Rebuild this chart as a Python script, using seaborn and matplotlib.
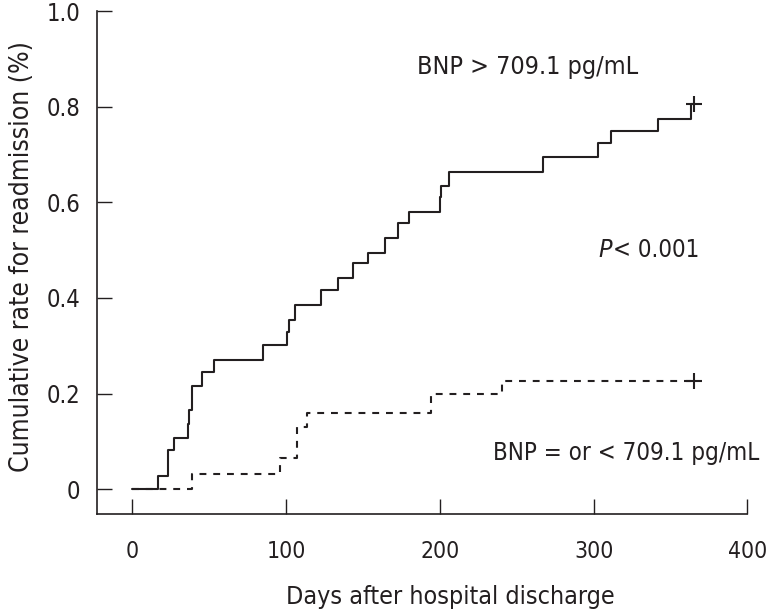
import numpy as np
import pandas as pd
import matplotlib
matplotlib.use("Agg")
import matplotlib.pyplot as plt
import seaborn as sns

# Kaplan-Meier style cumulative readmission
days_high = [0, 17, 23, 27, 36, 37, 39, 45, 53, 85, 100.5, 102, 106, 123, 133.5, 143.5,
             153.5, 164, 173, 180, 200, 201, 206, 267, 302.5, 311.5, 341.5, 363, 365]
rate_high = [0, 0.027, 0.081, 0.108, 0.137, 0.165, 0.216, 0.245, 0.270, 0.302, 0.329, 0.354,
             0.386, 0.417, 0.441, 0.472, 0.494, 0.526, 0.556, 0.580, 0.611, 0.635, 0.664,
             0.694, 0.724, 0.750, 0.775, 0.805, 0.805]

days_low = [0, 38.5, 96.3, 106.9, 113.4, 194, 240.5, 365]
rate_low = [0, 0.031, 0.065, 0.129, 0.160, 0.199, 0.227, 0.227]

xticks = [0, 100, 200, 300, 400]
yticks = [0, 0.2, 0.4, 0.6, 0.8, 1.0]
ytick_labels = ["0", "0.2", "0.4", "0.6", "0.8", "1.0"]

df_high = pd.DataFrame({"days": days_high, "rate": rate_high})
df_low = pd.DataFrame({"days": days_low, "rate": rate_low})

sns.set_theme(style="ticks")
plt.rcParams["font.family"] = ["DejaVu Sans"]
plt.rcParams["font.stretch"] = "condensed"
ink = "#231f20"

fig = plt.figure(figsize=(7.66, 6.16), dpi=100)
ax = fig.add_axes([0.1266, 0.1656, 0.8492, 0.8164])

sns.lineplot(data=df_low, x="days", y="rate", ax=ax, color=ink, lw=1.5,
             drawstyle="steps-post", dashes=False, linestyle=(0, (3.3, 3.3)), estimator=None)
sns.lineplot(data=df_high, x="days", y="rate", ax=ax, color=ink, lw=1.5,
             drawstyle="steps-post", estimator=None)

# censor marks at end of follow-up
ax.plot([days_high[-1]], [rate_high[-1]], marker="+", ms=11, mew=1.5, color=ink, ls="none")
ax.plot([days_low[-1]], [rate_low[-1]], marker="+", ms=11, mew=1.5, color=ink, ls="none")

ax.set_xlim(-23, 400)
ax.set_ylim(-0.052, 1.0)
ax.set_xticks(xticks)
ax.set_yticks(yticks)
ax.set_yticklabels(ytick_labels)
ax.tick_params(axis="both", direction="in", length=10.5, width=1, color=ink, labelcolor=ink)
ax.tick_params(axis="y", pad=12, labelsize=17)
ax.tick_params(axis="x", pad=19, labelsize=16.5)
sns.despine(ax=ax)
for s in ["left", "bottom"]:
    ax.spines[s].set_linewidth(1.2)
    ax.spines[s].set_color(ink)

ax.set_xlabel("Days after hospital discharge", fontsize=18, color=ink)
ax.set_ylabel("Cumulative rate for readmission (%)", fontsize=19, color=ink)
ax.xaxis.set_label_coords(0.543, -0.141)
ax.yaxis.set_label_coords(-0.096, 0.511)

ax.text(257, 0.883, "BNP > 709.1 pg/mL", fontsize=18, color=ink, ha="center", va="center")
ax.text(303, 0.5, "P", fontsize=18, color=ink, style="italic", ha="left", va="center")
ax.text(312.5, 0.5, "< 0.001", fontsize=17.3, color=ink, ha="left", va="center")
ax.text(234.7, 0.075, "BNP = or < 709.1 pg/mL", fontsize=17.3, color=ink, ha="left", va="center")

fig.savefig("out.png", dpi=100)
